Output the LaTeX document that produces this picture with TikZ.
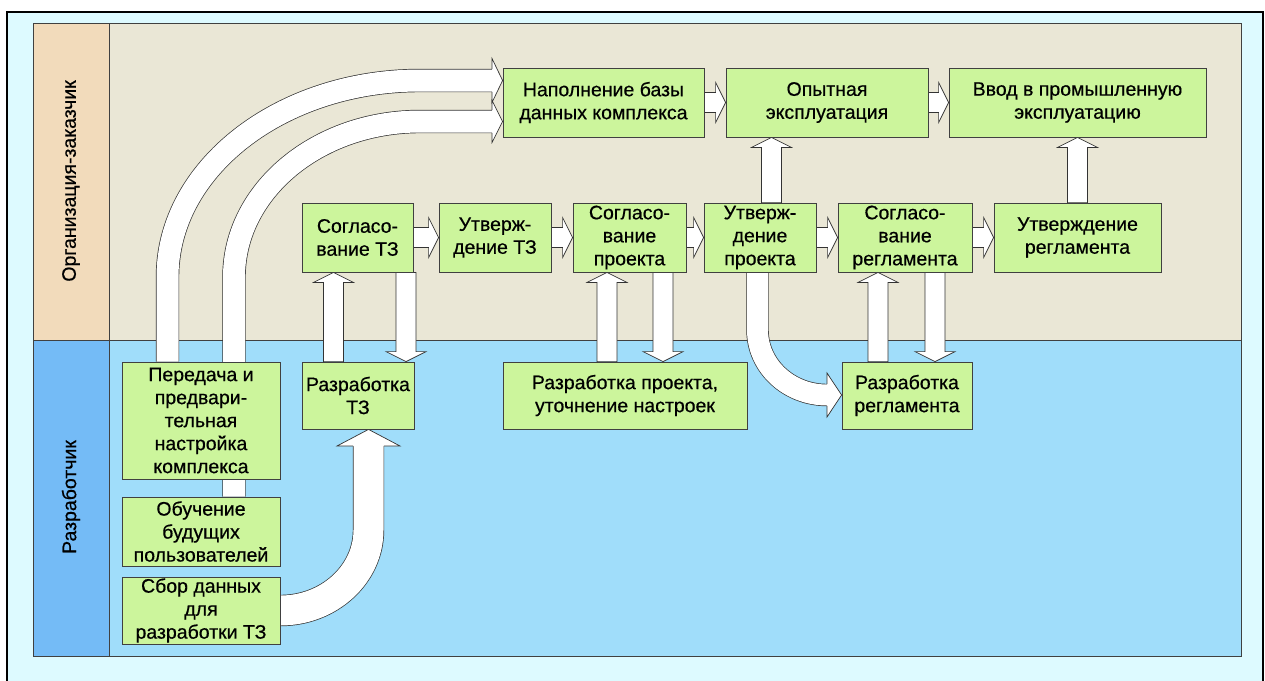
\documentclass[tikz,border=0pt]{standalone}
\usepackage{fontspec}
\setmainfont{Liberation Sans}[FakeBold=0.5]
\usepackage{tikz}
\usetikzlibrary{calc,positioning}

\definecolor{pagebg}{RGB}{221,250,255}
\definecolor{orgbg}{RGB}{234,231,214}
\definecolor{orglbl}{RGB}{242,219,187}
\definecolor{devbg}{RGB}{160,221,250}
\definecolor{devlbl}{RGB}{116,187,246}
\definecolor{stage}{RGB}{204,245,156}

\newcommand\blkw{10pt}
\newcommand\blkW{20pt}
\newcommand\blkL{10pt}

\pgfdeclarelayer{lanes}
\pgfdeclarelayer{flow}
\pgfsetlayers{lanes,flow,main}

\begin{document}
\begin{tikzpicture}[x=1pt,y=-1pt,
 every node/.style={font=\fontsize{19.5}{23}\selectfont,align=center},
 box/.style={draw=black!75,line width=0.8pt,fill=stage,inner sep=0pt},
 stagebox/.style={box,minimum height=69pt},
 lanerule/.style={draw=black!75,line width=1pt},
 blk/.style={draw=black!80,fill=white,line width=0.7pt,
  to path={($(\tikztostart)!\blkw!90:(\tikztotarget)$)
   -- ($($(\tikztotarget)!\blkL!(\tikztostart)$)!\blkw!90:(\tikztotarget)$)
   -- ($($(\tikztotarget)!\blkL!(\tikztostart)$)!\blkW!90:(\tikztotarget)$)
   -- (\tikztotarget)
   -- ($($(\tikztotarget)!\blkL!(\tikztostart)$)!\blkW!-90:(\tikztotarget)$)
   -- ($($(\tikztotarget)!\blkL!(\tikztostart)$)!\blkw!-90:(\tikztotarget)$)
   -- ($(\tikztostart)!\blkw!-90:(\tikztotarget)$) -- cycle}},
 tube/.style={draw=black!80,line width=0.7pt,double=white,double distance=#1},
 tubehead/.style 2 args={draw=black!80,fill=white,line width=0.7pt,
  to path={($(\tikztostart)!#1!90:(\tikztotarget)$)
   -- ($(\tikztostart)!#2!90:(\tikztotarget)$) -- (\tikztotarget)
   -- ($(\tikztostart)!#2!-90:(\tikztotarget)$)
   -- ($(\tikztostart)!#1!-90:(\tikztotarget)$)}}]
\useasboundingbox (0,0) rectangle (1265,680);

% swimlanes
\begin{pgfonlayer}{lanes}
\fill[pagebg] (7,12) rectangle (1263,690);
\draw[black,line width=1.3pt] (7,690) -- (7,12) -- (1263,12) -- (1263,690);
\fill[orgbg] (109,23) rectangle (1241,340);
\fill[orglbl] (33,23) rectangle (109,340);
\fill[devbg] (109,340) rectangle (1241,656);
\fill[devlbl] (33,340) rectangle (109,656);
\draw[lanerule] (33,23) rectangle (1241,656);
\draw[lanerule] (33,340) -- (1241,340);
\draw[lanerule] (109,23) -- (109,656);
\end{pgfonlayer}
\node[rotate=90] (lblOrg) at (71,181) {Организация-заказчик};
\node[rotate=90] (lblDev) at (71,497) {Разработчик};

% customer lane
\node[stagebox,minimum width=201pt] (fill) at (603.5,102.5) {Наполнение базы\\данных комплекса};
\node[stagebox,minimum width=202pt] (trial) at (827,102.5) {Опытная\\эксплуатация};
\node[stagebox,minimum width=257pt] (prod) at (1077.5,102.5) {Ввод в промышленную\\эксплуатацию};
\node[stagebox,minimum width=111pt] (agrTZ) at (357.5,237.5) {Согласо-\\вание ТЗ};
\node[stagebox,minimum width=112pt] (aprTZ) at (495,237.5) {Утверж-\\дение ТЗ};
\node[stagebox,minimum width=113pt] (agrPr) at (629.5,237.5) {Согласо-\\вание\\проекта};
\node[stagebox,minimum width=112pt] (aprPr) at (760,237.5) {Утверж-\\дение\\проекта};
\node[stagebox,minimum width=134pt] (agrReg) at (905,237.5) {Согласо-\\вание\\регламента};
\node[stagebox,minimum width=167pt] (aprReg) at (1077.5,237.5) {Утверждение\\регламента};

% developer lane
\node[box,minimum width=158pt,minimum height=117pt] (setup) at (201,420.5) {Передача и\\предвари-\\тельная\\настройка\\комплекса};
\node[stagebox,minimum width=158pt] (train) at (201,531.5) {Обучение\\будущих\\пользователей};
\node[box,minimum width=158pt,minimum height=67pt] (collect) at (201,610.5) {Сбор данных\\для\\разработки ТЗ};
\node[box,minimum width=112pt,minimum height=67pt] (devTZ) at (358,395.5) {Разработка\\ТЗ};
\node[box,minimum width=244pt,minimum height=67pt] (devPr) at (625,395.5) {Разработка проекта,\\уточнение настроек};
\node[box,minimum width=130pt,minimum height=67pt] (devReg) at (907,395.5) {Разработка\\регламента};

\begin{pgfonlayer}{flow}
% straight block arrows
\path[blk] (fill.east) to (trial.west);
\path[blk] (trial.east) to (prod.west);
\path[blk] (agrTZ.east) to (aprTZ.west);
\path[blk] (aprTZ.east) to (agrPr.west);
\path[blk] (agrPr.east) to (aprPr.west);
\path[blk] (aprPr.east) to (agrReg.west);
\path[blk] (agrReg.east) to (aprReg.west);
\path[blk] ([xshift=11.5pt]aprPr.north) to ([xshift=11.5pt]aprPr.north |- trial.south);
\path[blk] (aprReg.north) to (aprReg.north |- prod.south);
\path[blk] ([xshift=-24.5pt]devTZ.north) to ([xshift=-24.5pt]devTZ.north |- agrTZ.south);
\path[blk] ([xshift=48.5pt]agrTZ.south) to ([xshift=48.5pt]agrTZ.south |- devTZ.north);
\path[blk] ([xshift=-18pt]devPr.north) to ([xshift=-18pt]devPr.north |- agrPr.south);
\path[blk] ([xshift=33.5pt]agrPr.south) to ([xshift=33.5pt]agrPr.south |- devPr.north);
\path[blk] ([xshift=-29pt]devReg.north) to ([xshift=-29pt]devReg.north |- agrReg.south);
\path[blk] ([xshift=30pt]agrReg.south) to ([xshift=30pt]agrReg.south |- devReg.north);

% bent block arrows
\coordinate (hA) at (492,80.5);
\coordinate (hB) at (492,121.5);
\coordinate (hC) at (368.5,446);
\coordinate (hD) at (827,395);
\draw[tube=22pt] ([xshift=-33.5pt]setup.north) -- (167.5,277)
  .. controls (167.5,168.5) and (280.5,80.5) .. (420,80.5) -- (hA);
\path[tubehead={11.4pt}{22pt}] (hA) to (fill.west |- hA);
\draw[tube=22pt] ([xshift=33pt]train.north) -- (234,277)
  .. controls (234,191.1) and (317.3,121.5) .. (420,121.5) -- (hB);
\path[tubehead={11.4pt}{21pt}] (hB) to (fill.west |- hB);
\draw[tube=30pt] (collect.east) .. controls (328.9,610.5) and (368.5,574.5) .. (368.5,530) -- (hC);
\path[tubehead={15.4pt}{31.5pt}] (hC) to (hC |- devTZ.south);
\draw[tube=21pt] ([xshift=-2.5pt]aprPr.south) -- (757.5,330)
  .. controls (757.5,365.9) and (788.6,395) .. (hD);
\path[tubehead={10.9pt}{22pt}] (hD) to (devReg.west |- hD);
\end{pgfonlayer}
\end{tikzpicture}
\end{document}
